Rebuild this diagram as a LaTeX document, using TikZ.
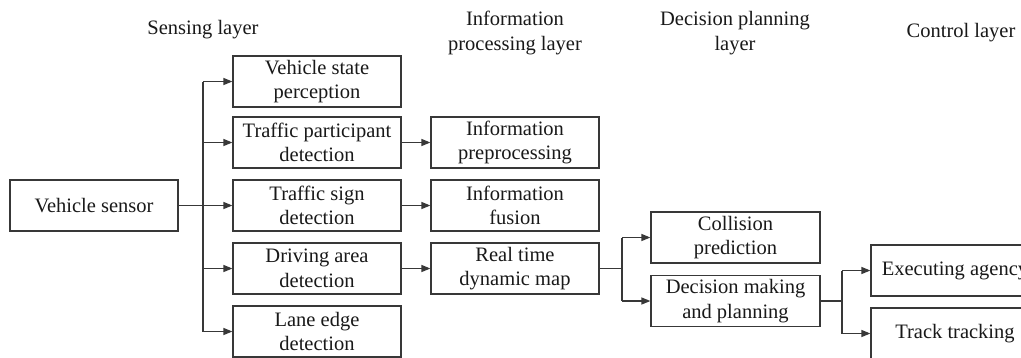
\documentclass[tikz,border=0pt]{standalone}
\usepackage{fontspec}
\setmainfont{Liberation Serif}
\usetikzlibrary{arrows.meta}
\tikzset{
  box/.style={draw=black!78, line width=1.2pt, minimum width=168pt, minimum height=51pt,
    inner sep=0pt, align=center, font=\fontsize{20.5}{24.5}\selectfont, text=black!90},
  layer/.style={align=center, font=\fontsize{20.5}{24.5}\selectfont, text=black!90, inner sep=0pt},
  wire/.style={draw=black!78, line width=1.2pt},
  arr/.style={wire, -{Triangle[length=9pt,width=7pt]}}
}
\begin{document}
\begin{tikzpicture}[x=1pt, y=-1pt]
\useasboundingbox (0,0) rectangle (1021,357);
\clip (0,0) rectangle (1021,357);
\fill[white] (0,0) rectangle (1021,357);

% layer titles
\node[layer] (tsense) at (203,30) {Sensing layer};
\node[layer] (tinfo) at (515,33) {Information\\processing layer};
\node[layer] (tdec) at (735,33) {Decision planning\\layer};
\node[layer] (tctrl) at (961,33) {Control layer};

% sensing
\node[box] (vs) at (94,205.5) {Vehicle sensor};
\node[box] (s1) at (317,81.5) {Vehicle state\\perception};
\node[box] (s2) at (317,142.5) {Traffic participant\\detection};
\node[box] (s3) at (317,205.5) {Traffic sign\\detection};
\node[box] (s4) at (317,268.5) {Driving area\\detection};
\node[box] (s5) at (317,331.5) {Lane edge\\detection};

% information processing
\node[box] (i1) at (515,142.5) {Information\\preprocessing};
\node[box] (i2) at (515,205.5) {Information\\fusion};
\node[box] (i3) at (515,268.5) {Real time\\dynamic map};

% decision planning
\node[box, minimum width=169pt] (d1) at (735.5,237.5) {Collision\\prediction};
\node[box, minimum width=169pt] (d2) at (735.5,301) {Decision making\\and planning};

% control
\node[box] (c1) at (955,270.5) {Executing agency};
\node[box] (c2) at (955,333.5) {Track tracking};

% sensor fan-out
\coordinate (ja) at (203,205.5);
\draw[wire] (vs.east) -- (ja);
\draw[wire] (ja |- s1.west) -- (ja |- s5.west);
\foreach \n in {s1,s2,s3,s4,s5} \draw[arr] (ja |- \n.west) -- (\n.west);

% sensing to information processing
\draw[arr] (s2.east) -- (i1.west);
\draw[arr] (s3.east) -- (i2.west);
\draw[arr] (s4.east) -- (i3.west);

% map to decision planning
\coordinate (jb) at (622,268.5);
\draw[wire] (i3.east) -- (jb);
\draw[wire] (jb |- d1.west) -- (jb |- d2.west);
\draw[arr] (jb |- d1.west) -- (d1.west);
\draw[arr] (jb |- d2.west) -- (d2.west);

% planning to control
\coordinate (jc) at (842,301);
\draw[wire] (d2.east) -- (jc);
\draw[wire] (jc |- c1.west) -- (jc |- c2.west);
\draw[arr] (jc |- c1.west) -- (c1.west);
\draw[arr] (jc |- c2.west) -- (c2.west);
\end{tikzpicture}
\end{document}
